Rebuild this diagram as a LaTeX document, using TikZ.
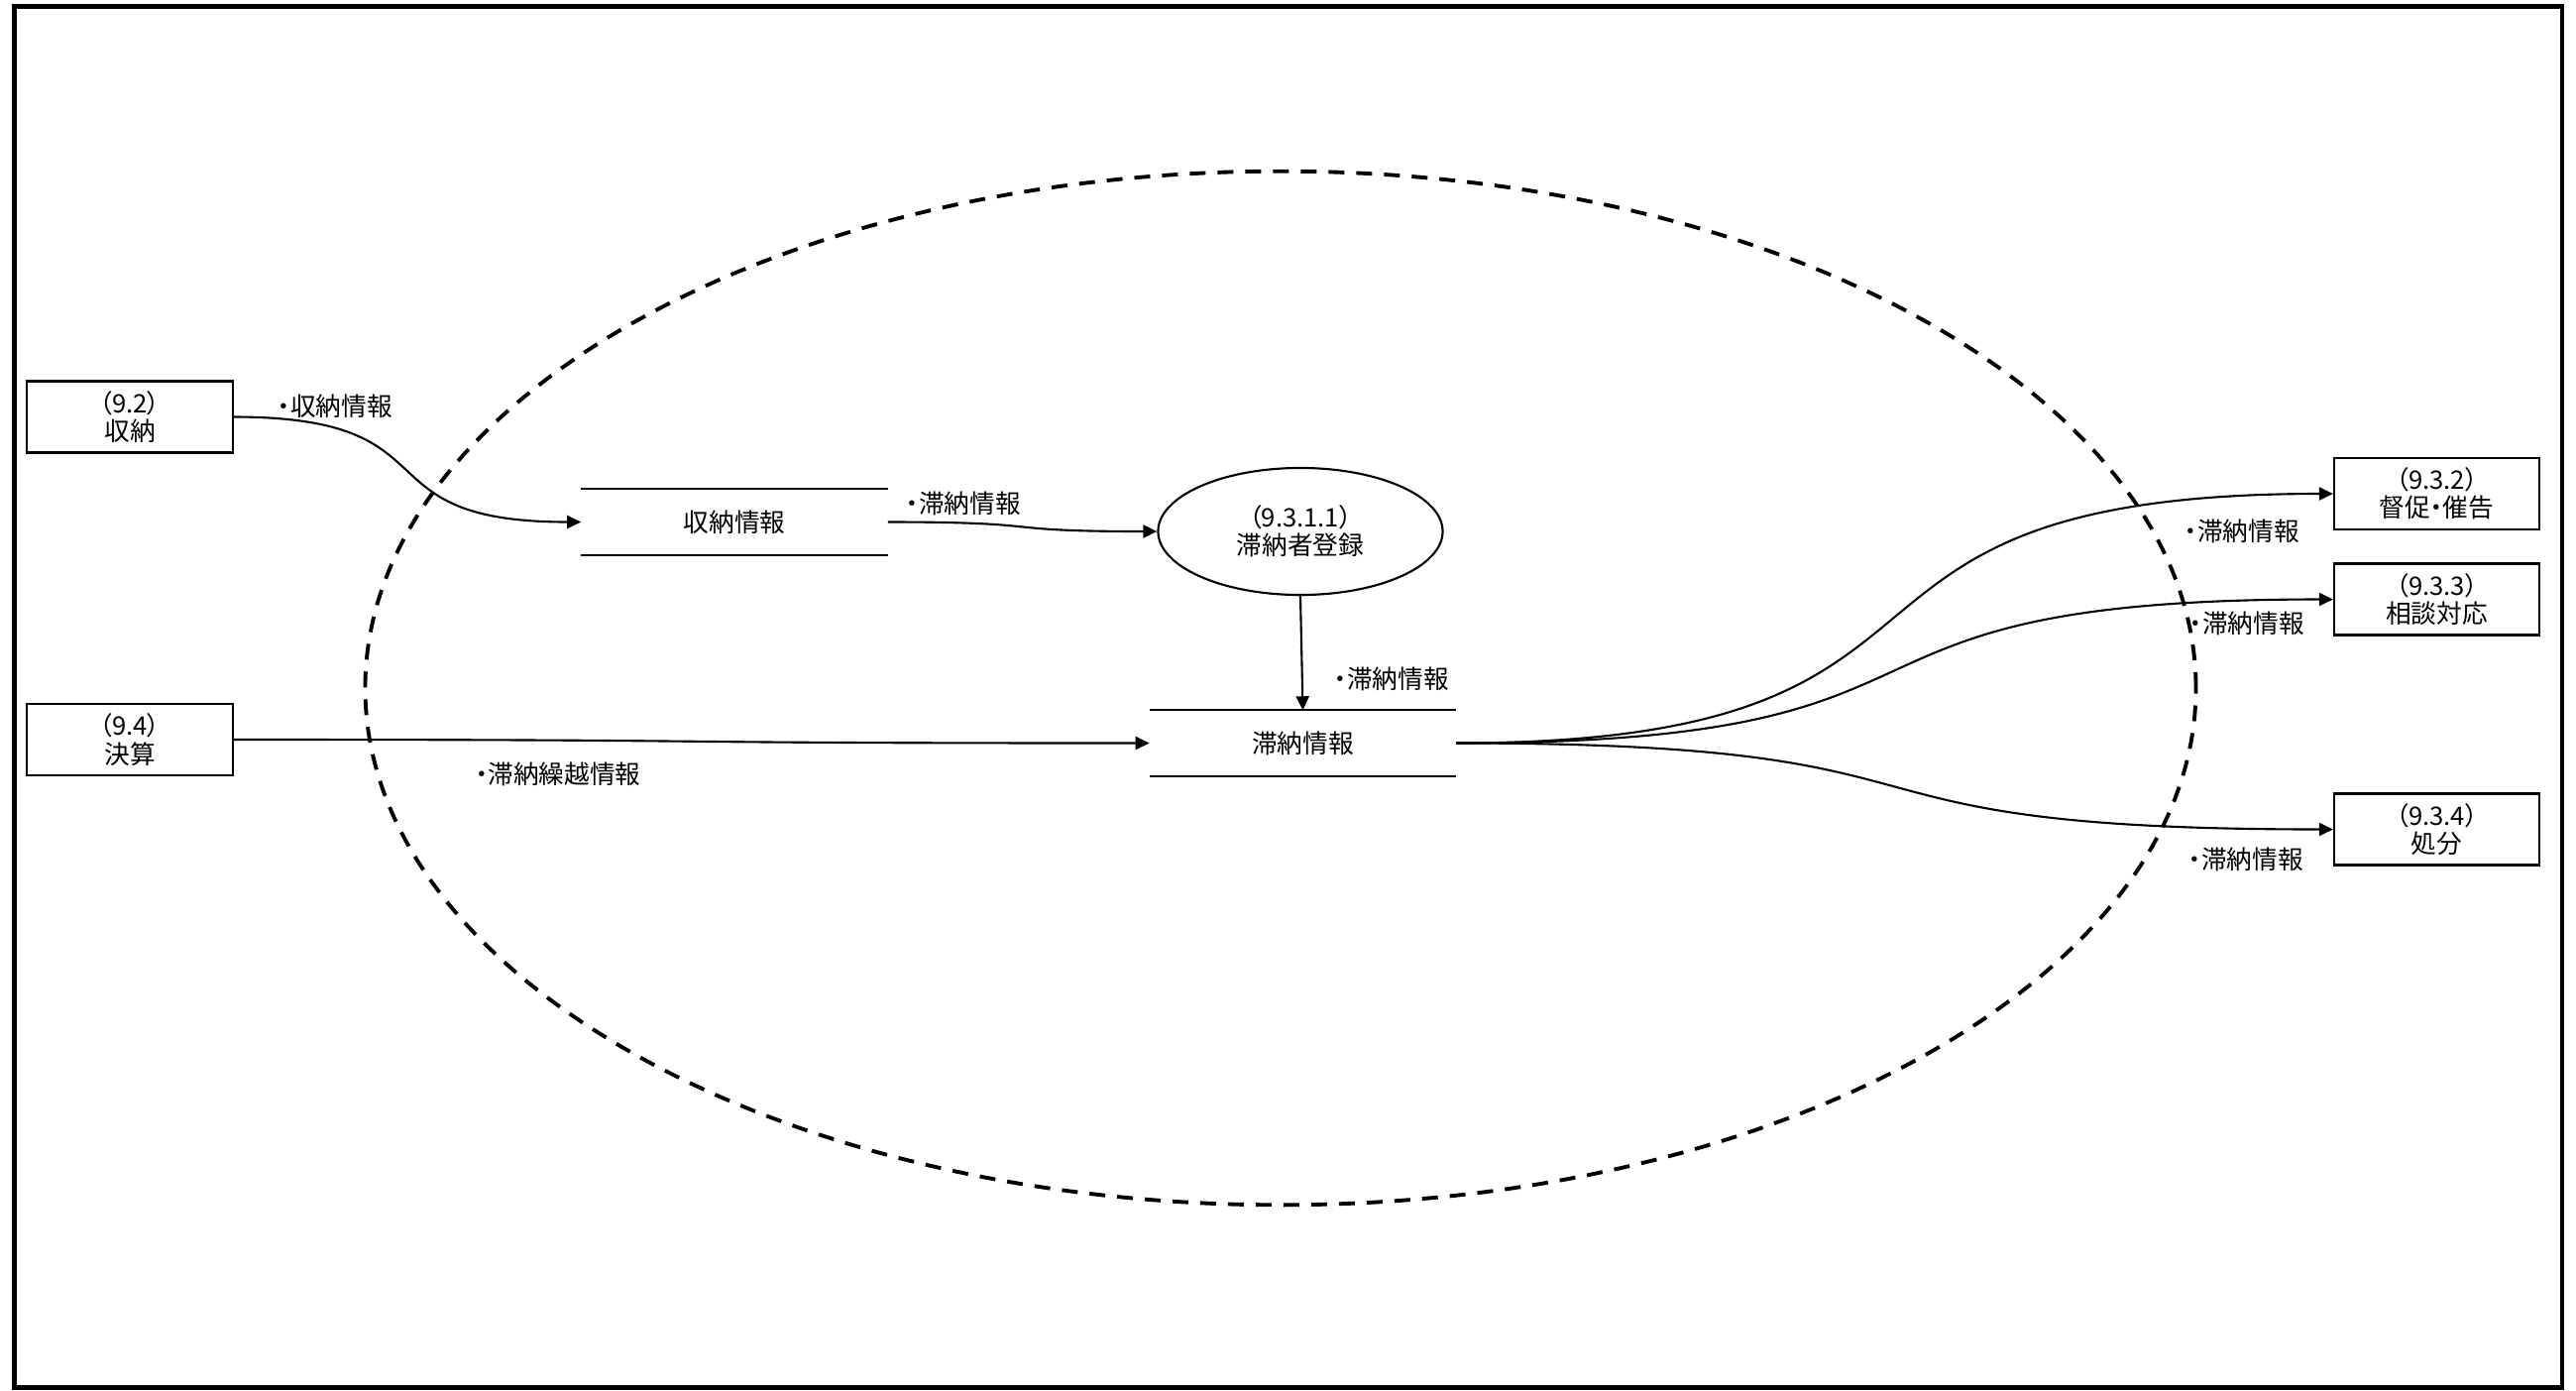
\documentclass[tikz,border=0pt]{standalone}
\usepackage{fontspec}
\setmainfont{Noto Sans CJK JP}[RawFeature=+palt]
\usetikzlibrary{arrows.meta,shapes.geometric}

\begin{document}
\begin{tikzpicture}[x=0.01cm, y=-0.01cm, > = {Triangle[length=1.4mm, width=1.3mm]}, font=\fontsize{7.3pt}{8pt}\selectfont,
    ext/.style = {draw, line width=0.6pt, minimum width=2.07cm, minimum height=0.72cm, inner sep=0pt, align=center},
    store/.style = {minimum width=3.08cm, minimum height=0.65cm, inner sep=0pt},
    proc/.style = {draw, ellipse, line width=0.6pt, minimum width=2.87cm, minimum height=1.28cm, inner sep=0pt, align=center},
    flow/.style = {->, line width=0.6pt},
    scurve/.style = {out=0, in=180, looseness=1.6}]

    \useasboundingbox (0,0) rectangle (2599,1402);

    % frame and boundary
    \draw[line width=1.4pt] (14.5,6.5) rectangle (2585,1399.5);
    \draw[line width=1.1pt, dash pattern=on 0.16cm off 0.12cm] (1292,694) ellipse [x radius=9.23cm, y radius=5.21cm];

    % processes and stores
    \node[ext] (e92) at (131,420.5) {（9.2）\\収納};
    \node[ext] (e94) at (131,746) {（9.4）\\決算};
    \node[store] (d1) at (741,526.5) {収納情報};
    \node[store] (d2) at (1314.5,749.5) {滞納情報};
    \node[proc] (p1) at (1312,536) {（9.3.1.1）\\滞納者登録};
    \node[ext] (e932) at (2458.5,498) {（9.3.2）\\督促・催告};
    \node[ext] (e933) at (2458.5,604.5) {（9.3.3）\\相談対応};
    \node[ext] (e934) at (2458.5,836.5) {（9.3.4）\\処分};

    \foreach \d in {d1,d2}
        \draw[line width=0.6pt] (\d.north west) -- (\d.north east) (\d.south west) -- (\d.south east);

    % flows
    \draw[flow] (e92.east) to[scurve] (d1.west);
    \draw[flow] (d1.east) to[scurve] (p1.west);
    \draw[flow] (p1.south) -- (d2.north);
    \draw[flow] (e94.east) to[scurve] (d2.west);
    \foreach \e in {e932,e933,e934}
        \draw[flow] (d2.east) to[scurve] (\e.west);

    % labels
    \node (l1) at (338,410) {・収納情報};
    \node (l2) at (972,508) {・滞納情報};
    \node (l3) at (1404,685) {・滞納情報};
    \node (l4) at (563,781) {・滞納繰越情報};
    \node (l5) at (2262,536) {・滞納情報};
    \node (l6) at (2267,629) {・滞納情報};
    \node (l7) at (2266,867) {・滞納情報};

\end{tikzpicture}
\end{document}
